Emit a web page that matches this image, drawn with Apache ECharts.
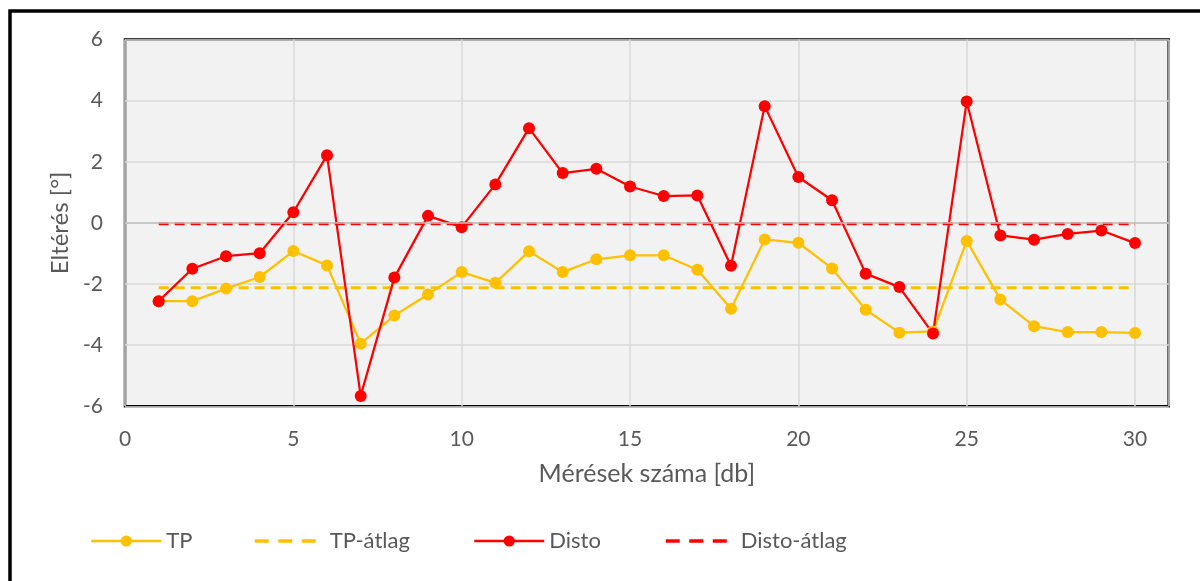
<!DOCTYPE html>
<html>
<head>
<meta charset="utf-8">
<script src="https://cdn.jsdelivr.net/npm/echarts@6/dist/echarts.min.js"></script>
<style>
  html, body { margin: 0; padding: 0; background: #fff; }
  #chart { width: 1200px; height: 581px; }
</style>
</head>
<body>
<div id="chart"></div>
<script>
// mérések sorszáma
const meresek = [1, 2, 3, 4, 5, 6, 7, 8, 9, 10, 11, 12, 13, 14, 15,
  16, 17, 18, 19, 20, 21, 22, 23, 24, 25, 26, 27, 28, 29, 30];
// TP eltérések [°]
const tpErtekek = [-2.56, -2.56, -2.15, -1.77, -0.92, -1.39, -3.95, -3.03, -2.34, -1.61,
  -1.96, -0.93, -1.61, -1.19, -1.06, -1.06, -1.53, -2.81, -0.54, -0.65,
  -1.49, -2.84, -3.59, -3.55, -0.59, -2.51, -3.38, -3.57, -3.57, -3.60];
// Disto eltérések [°]
const distoErtekek = [-2.56, -1.50, -1.09, -0.99, 0.35, 2.21, -5.66, -1.79, 0.23, -0.14,
  1.26, 3.10, 1.63, 1.77, 1.19, 0.88, 0.90, -1.40, 3.82, 1.50,
  0.74, -1.66, -2.10, -3.62, 3.97, -0.41, -0.55, -0.36, -0.25, -0.66];
// átlagok (kezdő és záró mérés)
const atlagX = [1, 30];
const tpAtlag = [-2.12, -2.12];
const distoAtlag = [-0.03, -0.03];

const zip = (xs, ys) => xs.map((x, i) => [x, ys[i]]);

const szoveg = '#595959';
const betu = 'Lato';
const sarga = '#FFC000';
const piros = '#FF0000';

const chart = echarts.init(document.getElementById('chart'));

// jelmagyarázat elemei egyenként, hogy a helyük pontos legyen
const jelmagyarazat = (nev, bal, szel, szaggatott) => ({
  data: [szaggatott
    ? { name: nev, itemStyle: { opacity: 0 }, lineStyle: { width: 3.5, type: [14, 9.5] } }
    : { name: nev, lineStyle: { width: 2.5 } }],
  left: bal,
  top: 530,
  padding: 0,
  itemWidth: szel,
  itemHeight: 14,
  itemGap: 0,
  textStyle: { color: szoveg, fontFamily: betu, fontSize: 22 }
});

const options = {
  animation: false,
  backgroundColor: '#fff',
  textStyle: { fontFamily: betu },
  graphic: [{
    type: 'rect',
    z: -10,
    shape: { x: 10, y: 11, width: 1300, height: 700 },
    style: { fill: 'none', stroke: '#000', lineWidth: 3.5 }
  }],
  legend: [
    jelmagyarazat('TP', 90, 70),
    jelmagyarazat('TP-átlag', 253, 70, true),
    jelmagyarazat('Disto', 473, 70),
    jelmagyarazat('Disto-átlag', 664, 70, true)
  ],
  grid: {
    show: true,
    left: 125,
    top: 39.5,
    right: 31.3,
    bottom: 174.7,
    backgroundColor: '#F2F2F2',
    borderColor: '#000',
    borderWidth: 2.5
  },
  xAxis: {
    type: 'value',
    min: 0,
    max: 31,
    interval: 5,
    name: 'Mérések száma [db]',
    nameLocation: 'middle',
    nameGap: 55,
    nameTextStyle: { color: szoveg, fontFamily: betu, fontSize: 25 },
    axisLine: { show: false },
    axisTick: { show: false },
    axisLabel: { color: szoveg, fontFamily: betu, fontSize: 21, margin: 22, showMaxLabel: false },
    splitLine: { show: true, lineStyle: { color: '#D9D9D9', width: 1.5 } }
  },
  yAxis: {
    type: 'value',
    min: -6,
    max: 6,
    interval: 2,
    name: 'Eltérés [°]',
    nameLocation: 'middle',
    nameGap: 50,
    nameTextStyle: { color: szoveg, fontFamily: betu, fontSize: 24 },
    axisLine: { show: false },
    axisTick: { show: false },
    axisLabel: { color: szoveg, fontFamily: betu, fontSize: 21, margin: 22 },
    splitLine: { show: true, lineStyle: { color: '#D9D9D9', width: 1.5 } }
  },
  series: [
    {
      name: 'TP',
      type: 'line',
      data: zip(meresek, tpErtekek),
      symbol: 'circle',
      symbolSize: 12,
      itemStyle: { color: sarga },
      lineStyle: { color: sarga, width: 2.25 },
      // vízszintes tengely a nullánál
      markLine: {
        silent: true,
        symbol: 'none',
        label: { show: false },
        lineStyle: { color: '#BFBFBF', type: 'solid', width: 1.5 },
        data: [{ yAxis: 0 }]
      }
    },
    {
      name: 'TP-átlag',
      type: 'line',
      data: zip(atlagX, tpAtlag),
      symbol: 'none',
      itemStyle: { color: sarga },
      lineStyle: { color: sarga, width: 3, type: [10, 6] }
    },
    {
      name: 'Disto',
      type: 'line',
      data: zip(meresek, distoErtekek),
      symbol: 'circle',
      symbolSize: 12,
      itemStyle: { color: piros },
      lineStyle: { color: piros, width: 2.25 }
    },
    {
      name: 'Disto-átlag',
      type: 'line',
      data: zip(atlagX, distoAtlag),
      symbol: 'none',
      itemStyle: { color: piros },
      lineStyle: { color: piros, width: 3, type: [10, 6] }
    }
  ]
};
chart.setOption(options);
</script>
</body>
</html>
